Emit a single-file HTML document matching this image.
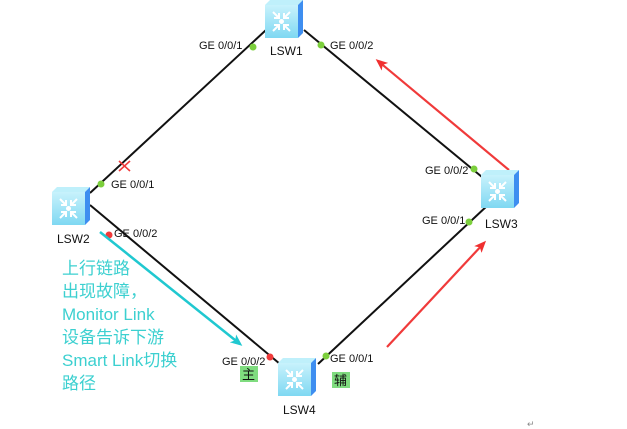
<!DOCTYPE html>
<html><head><meta charset="utf-8"><style>
html,body{margin:0;padding:0;background:#fff;}
svg{display:block;}
.t{font-family:"Liberation Sans",sans-serif;font-size:11px;fill:#111;}
.c{font-family:"Liberation Sans","Noto Sans CJK SC",sans-serif;font-size:17px;fill:#3cd0d0;}
</style></head><body>
<svg width="627" height="429" viewBox="0 0 627 429" xmlns="http://www.w3.org/2000/svg">
<defs>
<linearGradient id="fg" x1="0" y1="0" x2="0" y2="1"><stop offset="0" stop-color="#c8f2fc"/><stop offset="1" stop-color="#7fd8f2"/></linearGradient>
<g id="sw">
<polygon points="0,5 5,0 38,0 33,5" fill="#bff0fb"/>
<polygon points="33,5 38,0 38,33 33,38" fill="#3e8ef0"/>
<rect x="0" y="5" width="33" height="33" fill="url(#fg)"/>
<g stroke="#fff" stroke-width="2" fill="none">
<path d="M8,12 L14,18 M14,13 L14,18 L9,18"/>
<path d="M25,12 L19,18 M19,13 L19,18 L24,18"/>
<path d="M8,31 L14,25 M14,30 L14,25 L9,25"/>
<path d="M25,31 L19,25 M19,30 L19,25 L24,25"/>
</g>
<circle cx="16.5" cy="21.5" r="2.5" fill="#fff"/>
</g>
<marker id="ar" markerWidth="12" markerHeight="10" refX="9" refY="5" orient="auto" markerUnits="userSpaceOnUse"><path d="M0,0 L12,5 L0,10 L3,5 Z" fill="#f03030"/></marker>
<marker id="ac" markerWidth="12" markerHeight="10" refX="9" refY="5" orient="auto" markerUnits="userSpaceOnUse"><path d="M0,0 L12,5 L0,10 L3,5 Z" fill="#20c8d0"/></marker>
</defs>
<g stroke="#111" stroke-width="2">
<line x1="266" y1="30" x2="90" y2="193"/>
<line x1="304" y1="30" x2="482" y2="177"/>
<line x1="488" y1="205" x2="318" y2="364"/>
<line x1="90" y1="205" x2="280" y2="364"/>
</g>
<g fill="#7ccf3c">
<circle cx="253" cy="47" r="3.5"/><circle cx="101" cy="184" r="3.5"/>
<circle cx="321" cy="45" r="3.5"/><circle cx="474" cy="169" r="3.5"/>
<circle cx="469" cy="222" r="3.5"/><circle cx="326" cy="356" r="3.5"/>
</g>
<g fill="#f03a3a"><circle cx="109" cy="235" r="3.5"/><circle cx="270" cy="357" r="3.5"/></g>
<g stroke="#f03a3a" stroke-width="1.6"><line x1="119" y1="161" x2="130" y2="171"/><line x1="130" y1="161" x2="119" y2="171"/></g>
<line x1="509" y1="170" x2="378" y2="61" stroke="#f03a3a" stroke-width="2.2" marker-end="url(#ar)"/>
<line x1="387" y1="347" x2="484" y2="243" stroke="#f03a3a" stroke-width="2.2" marker-end="url(#ar)"/>
<line x1="100" y1="232" x2="240" y2="344" stroke="#20c8d0" stroke-width="2.5" marker-end="url(#ac)"/>
<use href="#sw" x="265" y="0"/>
<use href="#sw" x="52" y="187"/>
<use href="#sw" x="481" y="170"/>
<use href="#sw" x="278" y="358"/>
<g class="t">
<text x="270" y="55" font-size="12">LSW1</text>
<text x="57" y="243" font-size="12">LSW2</text>
<text x="485" y="228" font-size="12">LSW3</text>
<text x="283" y="414" font-size="12">LSW4</text>
<text x="199" y="49">GE 0/0/1</text>
<text x="330" y="49">GE 0/0/2</text>
<text x="111" y="188">GE 0/0/1</text>
<text x="114" y="237">GE 0/0/2</text>
<text x="425" y="174">GE 0/0/2</text>
<text x="422" y="224">GE 0/0/1</text>
<text x="222" y="365">GE 0/0/2</text>
<text x="330" y="362">GE 0/0/1</text>
</g>
<rect x="240" y="366" width="18" height="16" fill="#7fdc7f"/>
<text x="242" y="379" font-family="Noto Sans CJK SC,sans-serif" font-size="13" fill="#111">主</text>
<rect x="332" y="372" width="18" height="16" fill="#7fdc7f"/>
<text x="334" y="385" font-family="Noto Sans CJK SC,sans-serif" font-size="13" fill="#111">辅</text>
<g class="c">
<text x="62" y="274">上行链路</text>
<text x="62" y="297">出现故障，</text>
<text x="62" y="320">Monitor Link</text>
<text x="62" y="343">设备告诉下游</text>
<text x="62" y="366">Smart Link切换</text>
<text x="62" y="389">路径</text>
</g>
<text x="527" y="427" font-family="Liberation Sans,sans-serif" font-size="9" fill="#888">↵</text>
</svg>
</body></html>
